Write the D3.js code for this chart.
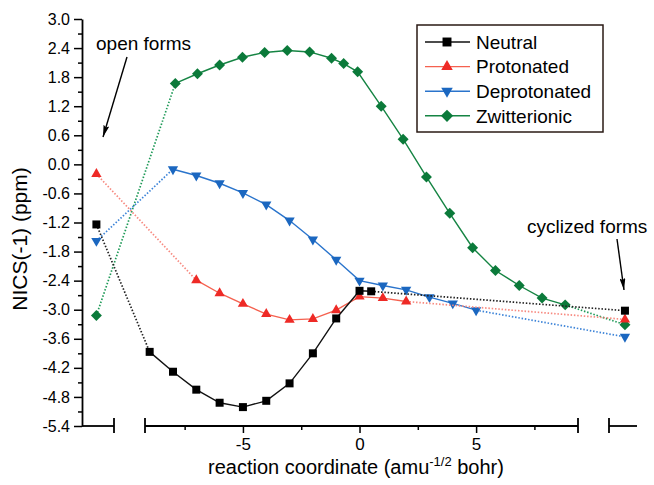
<!DOCTYPE html>
<html>
<head>
<meta charset="utf-8">
<script src="https://cdn.jsdelivr.net/npm/d3@7"></script>
<style>
  body { margin: 0; background: #fff; }
  svg { display: block; font-family: "Liberation Sans", Arial, sans-serif; }
</style>
</head>
<body>
<div class="canvas"></div>
<script>
// y ticks
var y_ticks = [-5.4, -4.8, -4.2, -3.6, -3.0, -2.4, -1.8, -1.2, -0.6, 0.0, 0.6, 1.2, 1.8, 2.4, 3.0];
var y_tick_labels = ["-5.4", "-4.8", "-4.2", "-3.6", "-3.0", "-2.4", "-1.8", "-1.2", "-0.6", "0.0", "0.6", "1.2", "1.8", "2.4", "3.0"];
var x_ticks = [-5, 0, 5];
var x_tick_labels = ["-5", "0", "5"];
var x_minor = [-7.5, -2.5, 2.5, 7.5];

// series (open form, reaction path, cyclized form)
var neutral_open = -1.24;
var neutral_x = [-9, -8, -7, -6, -5, -4, -3, -2, -1, 0, 0.5];
var neutral_y = [-3.87, -4.28, -4.65, -4.92, -5.01, -4.88, -4.52, -3.90, -3.18, -2.61, -2.62];
var neutral_cyc = -3.02;

var prot_open = -0.20;
var prot_x = [-7, -6, -5, -4, -3, -2, -1, 0, 1, 2];
var prot_y = [-2.39, -2.66, -2.88, -3.09, -3.21, -3.19, -3.01, -2.73, -2.76, -2.83];
var prot_cyc = -3.20;

var deprot_open = -1.58;
var deprot_x = [-8, -7, -6, -5, -4, -3, -2, -1, 0, 1, 2, 3, 4, 5];
var deprot_y = [-0.10, -0.23, -0.39, -0.59, -0.83, -1.16, -1.55, -1.97, -2.40, -2.50, -2.59, -2.74, -2.87, -3.01];
var deprot_cyc = -3.56;

var zwit_open = -3.12;
var zwit_x = [-7.9, -6.95, -6, -5.02, -4.07, -3.1, -2.14, -1.2, -0.68, -0.08, 0.93, 1.87, 2.87, 3.87, 4.85, 5.83, 6.85, 7.83, 8.82];
var zwit_y = [1.67, 1.87, 2.05, 2.21, 2.31, 2.35, 2.32, 2.19, 2.08, 1.91, 1.20, 0.52, -0.26, -1.01, -1.72, -2.19, -2.50, -2.76, -2.90];
var zwit_cyc = -3.31;

var series = [
	{name: "Neutral", open: neutral_open, xs: neutral_x, ys: neutral_y, cyc: neutral_cyc,
	 col: "#000000", line: "#111111", dot: "#222222", shape: "square"},
	{name: "Protonated", open: prot_open, xs: prot_x, ys: prot_y, cyc: prot_cyc,
	 col: "#ee2a26", line: "#f5614f", dot: "#f78a80", shape: "up"},
	{name: "Deprotonated", open: deprot_open, xs: deprot_x, ys: deprot_y, cyc: deprot_cyc,
	 col: "#1b67c0", line: "#2a74cc", dot: "#3d84d8", shape: "down"},
	{name: "Zwitterionic", open: zwit_open, xs: zwit_x, ys: zwit_y, cyc: zwit_cyc,
	 col: "#0b7a3a", line: "#158443", dot: "#1f9a58", shape: "diamond"}
];

var W = 654, H = 485;
var axis_y = 426;

var svg = d3.select("div.canvas").append("svg").attr("width", W).attr("height", H);

var y = d3.scaleLinear().domain([-5.4, 3.0]).range([426, 19]);
var x_mid = d3.scaleLinear().domain([-9.2, 9.37]).range([145, 578]);
var x_open = d3.scalePoint().domain(["open"]).range([82, 114]).align(0.45);
var x_cyc = d3.scalePoint().domain(["cyclized"]).range([609, 637]).align(0.57);

function symbol_path(shape, big) {
	var k = big ? 1.25 : 1;
	if (shape == "square") return d3.symbol(d3.symbolSquare, 64 * k)();
	if (shape == "diamond") return d3.symbol(d3.symbolSquare, 60 * k)();
	return d3.symbol(d3.symbolTriangle, 46 * k)();
}

function symbol_rot(shape) {
	if (shape == "diamond") return 45;
	if (shape == "down") return 180;
	return 0;
}

// y axis
var gy = svg.append("g").attr("transform", "translate(82,0)")
	.call(d3.axisLeft(y).tickValues(y_ticks).tickSize(8).tickPadding(4).tickSizeOuter(0)
		.tickFormat(function(d, i) { return y_tick_labels[i]; }));
svg.append("g").attr("transform", "translate(82,0)")
	.call(d3.axisLeft(y).tickValues(d3.pairs(y_ticks).map(function(p) { return (p[0] + p[1]) / 2; }))
		.tickSize(4).tickSizeOuter(0).tickFormat(""))
	.call(function(g) { g.select(".domain").remove(); })
	.selectAll("line").attr("stroke-width", 1.5);
gy.select(".domain").attr("stroke-width", 1.8);
gy.selectAll("line").attr("stroke-width", 1.5);
gy.selectAll("text").attr("font-size", 16).attr("font-family", "Liberation Sans, Arial, sans-serif").attr("fill", "#000");

// broken x axis
function draw_segment(x0, x1, cap_left, cap_right) {
	svg.append("line").attr("x1", x0).attr("x2", x1).attr("y1", axis_y).attr("y2", axis_y)
		.attr("stroke", "#000").attr("stroke-width", 1.8);
	if (cap_left) svg.append("line").attr("x1", x0).attr("x2", x0).attr("y1", axis_y - 8).attr("y2", axis_y + 7)
		.attr("stroke", "#000").attr("stroke-width", 1.8);
	if (cap_right) svg.append("line").attr("x1", x1).attr("x2", x1).attr("y1", axis_y - 8).attr("y2", axis_y + 7)
		.attr("stroke", "#000").attr("stroke-width", 1.8);
}
draw_segment(x_open.range()[0], x_open.range()[1], false, true);
draw_segment(x_mid.range()[0], x_mid.range()[1], true, true);
draw_segment(x_cyc.range()[0], x_cyc.range()[1], true, false);

var gx = svg.append("g").attr("transform", "translate(0," + axis_y + ")")
	.call(d3.axisBottom(x_mid).tickValues(x_ticks).tickSize(7).tickPadding(5).tickSizeOuter(0)
		.tickFormat(function(d, i) { return x_tick_labels[i]; }));
gx.select(".domain").remove();
gx.selectAll("line").attr("stroke-width", 1.5);
gx.selectAll("text").attr("font-size", 17).attr("font-family", "Liberation Sans, Arial, sans-serif").attr("fill", "#000");
svg.append("g").attr("transform", "translate(0," + axis_y + ")")
	.call(d3.axisBottom(x_mid).tickValues(x_minor).tickSize(4).tickSizeOuter(0).tickFormat(""))
	.call(function(g) { g.select(".domain").remove(); })
	.selectAll("line").attr("stroke-width", 1.5);

// axis titles
var xt = svg.append("text").attr("x", 356).attr("y", 474).attr("text-anchor", "middle")
	.attr("font-size", 20).attr("fill", "#000");
xt.append("tspan").text("reaction coordinate (amu");
xt.append("tspan").attr("dy", -8).attr("font-size", 13).text("-1/2");
xt.append("tspan").attr("dy", 8).text(" bohr)");

svg.append("text").attr("transform", "translate(27,239) rotate(-90)").attr("text-anchor", "middle")
	.attr("font-size", 21).attr("fill", "#000").text("NICS(-1) (ppm)");

// series
var line = d3.line().x(function(d) { return d[0]; }).y(function(d) { return d[1]; });
series.slice().reverse().forEach(function(s) {
	var pts = s.xs.map(function(v, i) { return [x_mid(v), y(s.ys[i])]; });
	var p_open = [x_open("open"), y(s.open)];
	var p_cyc = [x_cyc("cyclized"), y(s.cyc)];
	var g = svg.append("g");
	g.append("path").attr("d", line([p_open, pts[0]])).attr("fill", "none")
		.attr("stroke", s.dot).attr("stroke-width", 1.7).attr("stroke-dasharray", "1.5,1.8");
	g.append("path").attr("d", line([pts[pts.length - 1], p_cyc])).attr("fill", "none")
		.attr("stroke", s.dot).attr("stroke-width", 1.7).attr("stroke-dasharray", "1.5,1.8");
	g.append("path").attr("d", line(pts)).attr("fill", "none")
		.attr("stroke", s.line).attr("stroke-width", 1.4);
	var all = [p_open].concat(pts).concat([p_cyc]);
	g.selectAll("path.mk").data(all).enter().append("path").attr("class", "mk")
		.attr("d", symbol_path(s.shape))
		.attr("transform", function(d) { return "translate(" + d[0] + "," + d[1] + ") rotate(" + symbol_rot(s.shape) + ")"; })
		.attr("fill", s.col);
});

// legend
var lg = svg.append("g");
lg.append("rect").attr("x", 417).attr("y", 25).attr("width", 186).attr("height", 107)
	.attr("fill", "#fff").attr("stroke", "#2a1a14").attr("stroke-width", 1.5);
series.forEach(function(s, i) {
	var cy = 42 + i * 24.6;
	lg.append("line").attr("x1", 425).attr("x2", 470).attr("y1", cy).attr("y2", cy)
		.attr("stroke", s.line).attr("stroke-width", 1.4);
	lg.append("path").attr("d", symbol_path(s.shape, true))
		.attr("transform", "translate(447," + cy + ") rotate(" + symbol_rot(s.shape) + ")")
		.attr("fill", s.col);
	lg.append("text").attr("x", 476).attr("y", cy).attr("dy", "0.36em")
		.attr("font-size", 19).attr("fill", "#000").text(s.name);
});

// annotations
var defs = svg.append("defs");
defs.append("marker").attr("id", "arr").attr("viewBox", "0 0 12 6").attr("refX", 12).attr("refY", 3)
	.attr("markerWidth", 12).attr("markerHeight", 6).attr("markerUnits", "userSpaceOnUse").attr("orient", "auto")
	.append("path").attr("d", "M0,0 L12,3 L0,6 L2,3 z").attr("fill", "#000");

svg.append("text").attr("x", 96).attr("y", 50).attr("font-size", 19).attr("fill", "#000").text("open forms");
svg.append("line").attr("x1", 127).attr("y1", 57).attr("x2", 103).attr("y2", 137)
	.attr("stroke", "#000").attr("stroke-width", 1.4).attr("marker-end", "url(#arr)");

svg.append("text").attr("x", 527).attr("y", 233).attr("font-size", 19).attr("fill", "#000").text("cyclized forms");
svg.append("line").attr("x1", 617).attr("y1", 239).attr("x2", 624).attr("y2", 290)
	.attr("stroke", "#000").attr("stroke-width", 1.4).attr("marker-end", "url(#arr)");
</script>
</body>
</html>
